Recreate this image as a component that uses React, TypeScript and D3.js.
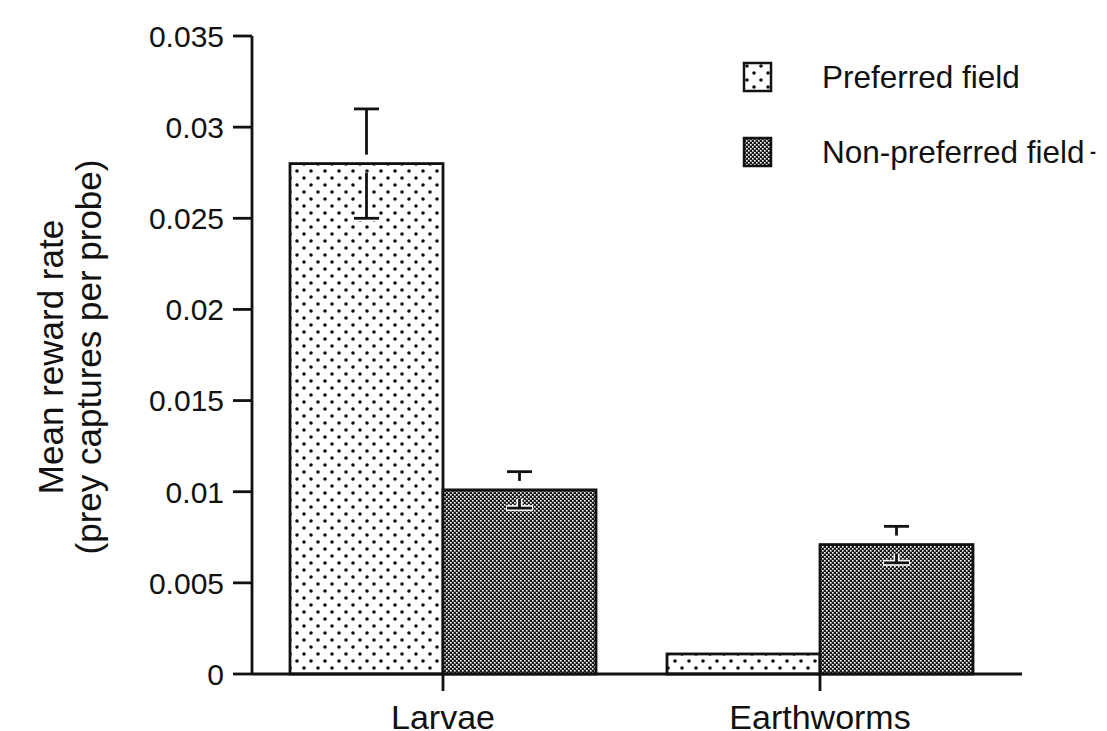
import React from "react";
import * as d3 from "d3";

const categories = ["Larvae", "Earthworms"];
const seriesNames = ["Preferred field", "Non-preferred field"];
const preferredValues = [0.028, 0.0011];
const preferredErrors = [0.003, 0];
const nonPreferredValues = [0.0101, 0.0071];
const nonPreferredErrors = [0.001, 0.001];
const yTicks = [0, 0.005, 0.01, 0.015, 0.02, 0.025, 0.03, 0.035];
const yTickLabels = ["0", "0.005", "0.01", "0.015", "0.02", "0.025", "0.03", "0.035"];

const W = 1107;
const H = 731;
const FONT = "'Liberation Sans', Arial, Helvetica, sans-serif";

export default function App() {
  const y = d3.scaleLinear().domain([0, 0.035]).range([674, 36]);
  const x = d3.scalePoint<string>().domain(categories).range([443, 820]);
  const inner = d3.scaleBand<string>().domain(seriesNames).range([-153, 153]);
  const axisX0 = 252;
  const axisX1 = 1022;
  const y0 = y(0);

  const rows = categories.flatMap((c, i) => [
    { cat: c, s: seriesNames[0], v: preferredValues[i], e: preferredErrors[i], fill: "url(#dots)" },
    { cat: c, s: seriesNames[1], v: nonPreferredValues[i], e: nonPreferredErrors[i], fill: "url(#checks)" },
  ]);

  const bw = inner.bandwidth();
  const gap = 9;

  return (
    <svg width={W} height={H} style={{ position: "absolute", left: 0, top: 0, background: "#fff" }} fontFamily={FONT}>
      <defs>
        <pattern id="dots" width="14" height="14" patternUnits="userSpaceOnUse">
          <rect width="14" height="14" fill="#fff" />
          <circle cx="3" cy="3" r="1.8" fill="#111" />
          <circle cx="10" cy="10" r="1.8" fill="#111" />
        </pattern>
        <pattern id="checks" width="4" height="4" patternUnits="userSpaceOnUse">
          <rect width="4" height="4" fill="#1a1a1a" />
          <rect x="0" y="0" width="1.6" height="1.6" fill="#fff" />
          <rect x="2" y="2" width="1.6" height="1.6" fill="#fff" />
        </pattern>
      </defs>
      <rect width={W} height={H} fill="#fff" />

      {/* bars */}
      {rows.map((r, i) => {
        const bx = (x(r.cat) as number) + (inner(r.s) as number);
        return (
          <rect key={i} x={bx} y={y(r.v)} width={bw} height={y0 - y(r.v)} fill={r.fill} stroke="#111" strokeWidth={2.8} />
        );
      })}

      {/* error bars */}
      {rows.filter((r) => r.e > 0).map((r, i) => {
        const cx = (x(r.cat) as number) + (inner(r.s) as number) + bw / 2;
        const yt = y(r.v + r.e);
        const yb = y(r.v - r.e);
        const ym = y(r.v);
        return (
          <g key={i}>
            <line x1={cx} x2={cx} y1={yt} y2={ym - gap} stroke="#111" strokeWidth={2.8} />
            <line x1={cx - 12.5} x2={cx + 12.5} y1={yt} y2={yt} stroke="#111" strokeWidth={2.8} />
            <line x1={cx} x2={cx} y1={ym + gap} y2={yb} stroke="#fff" strokeWidth={6} />
            <line x1={cx - 13.5} x2={cx + 13.5} y1={yb} y2={yb} stroke="#fff" strokeWidth={6} />
            <line x1={cx} x2={cx} y1={ym + gap} y2={yb} stroke="#111" strokeWidth={2.8} />
            <line x1={cx - 12.5} x2={cx + 12.5} y1={yb} y2={yb} stroke="#111" strokeWidth={2.8} />
          </g>
        );
      })}

      {/* axes */}
      <line x1={axisX0} x2={axisX0} y1={y(0.035)} y2={y0 + 1} stroke="#111" strokeWidth={2.8} />
      <line x1={axisX0} x2={axisX1} y1={y0} y2={y0} stroke="#111" strokeWidth={2.8} />
      {yTicks.map((t, i) => (
        <g key={i}>
          <line x1={axisX0 - 19} x2={axisX0} y1={y(t)} y2={y(t)} stroke="#111" strokeWidth={2.8} />
          <text x={224} y={y(t)} dy="0.36em" textAnchor="end" fontSize={30} fill="#111">
            {yTickLabels[i]}
          </text>
        </g>
      ))}
      {categories.map((c) => (
        <g key={c}>
          <line x1={x(c) as number} x2={x(c) as number} y1={y0} y2={y0 + 17} stroke="#111" strokeWidth={2.8} />
          <text x={x(c) as number} y={729} textAnchor="middle" fontSize={34} fill="#111">
            {c}
          </text>
        </g>
      ))}

      {/* y title */}
      <text transform="translate(63,357) rotate(-90)" textAnchor="middle" fontSize={35} fill="#111">
        Mean reward rate
      </text>
      <text transform="translate(101,357) rotate(-90)" textAnchor="middle" fontSize={35} fill="#111">
        (prey captures per probe)
      </text>

      {/* legend */}
      {seriesNames.map((s, i) => (
        <g key={s} transform={`translate(744,${63 + i * 75})`}>
          <rect x={0} y={0} width={27} height={28} fill={i === 0 ? "url(#dots)" : "url(#checks)"} stroke="#111" strokeWidth={2.5} />
          <text x={78} y={14} dy="0.36em" fontSize={31.5} fill="#111">
            {s}
          </text>
        </g>
      ))}
      <text x={1090} y={152} dy="0.36em" fontSize={18} fontWeight="bold" fill="#111">-</text>
    </svg>
  );
}
